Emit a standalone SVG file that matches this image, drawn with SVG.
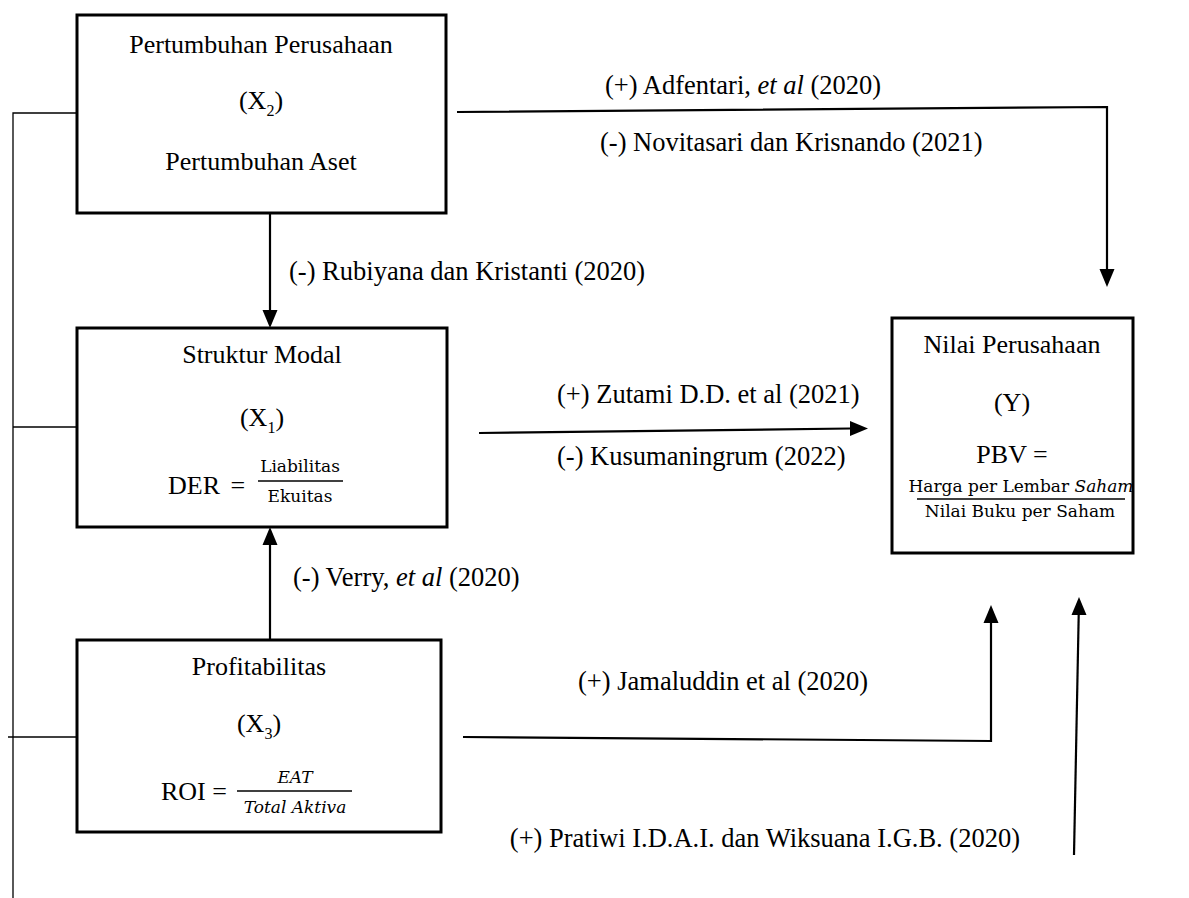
<svg xmlns="http://www.w3.org/2000/svg" width="1189" height="898" viewBox="0 0 1189 898">
<defs>
<style>
.box{fill:#fff;stroke:#000;stroke-width:3}
.t{font-family:"Liberation Serif","Times New Roman",serif;font-size:26px;fill:#000}
.lb{font-family:"Liberation Serif","Times New Roman",serif;font-size:26.5px;fill:#000}
.m{font-family:"DejaVu Serif","Liberation Serif",serif;font-size:17px;fill:#000}
.c{stroke:#000;stroke-width:2.2;fill:none}
.thin{stroke:#000;stroke-width:1.3;fill:none}
.head{fill:#000}
</style>
</defs>
<rect width="1189" height="898" fill="#fff"/>

<g id="connectors">
<polyline class="thin" points="77,113 13,113 13,898"/>
<line class="thin" x1="13" y1="427" x2="77" y2="427"/>
<line class="thin" x1="8" y1="737" x2="77" y2="737"/>
<polyline class="c" points="457,112 1107,107 1107,269"/>
<path class="head" d="M1099.5,269 L1114.5,269 L1107,287 z"/>
<line class="c" x1="270" y1="213" x2="270" y2="310"/>
<path class="head" d="M262.5,310 L277.5,310 L270,328 z"/>
<line class="c" x1="479" y1="433" x2="850" y2="428.5"/>
<path class="head" d="M850,421 L868,428.5 L850,436 z"/>
<line class="c" x1="270" y1="640" x2="270" y2="545"/>
<path class="head" d="M262.5,545 L277.5,545 L270,527 z"/>
<polyline class="c" points="463,737 991,741 991,623"/>
<path class="head" d="M983.5,623 L998.5,623 L991,605 z"/>
<line class="c" x1="1074" y1="855" x2="1078.7" y2="615"/>
<path class="head" d="M1071.5,615 L1086.5,615 L1079,597 z"/>
</g>

<g id="labels">
<text class="lb" x="605" y="94">(+) Adfentari, <tspan font-style="italic">et al</tspan> (2020)</text>
<text class="lb" x="600" y="151" font-size="25.5">(-) Novitasari dan Krisnando (2021)</text>
<text class="lb" x="289" y="280">(-) Rubiyana dan Kristanti (2020)</text>
<text class="lb" x="557" y="403">(+) Zutami D.D. et al (2021)</text>
<text class="lb" x="557" y="465">(-) Kusumaningrum (2022)</text>
<text class="lb" x="293" y="586" font-size="25">(-) Verry, <tspan font-style="italic">et al</tspan> (2020)</text>
<text class="lb" x="578" y="690" font-size="25.5">(+) Jamaluddin et al (2020)</text>
<text class="lb" x="1020" y="847" text-anchor="end">(+) Pratiwi I.D.A.I. dan Wiksuana I.G.B. (2020)</text>
</g>

<g id="node-x2">
<rect class="box" x="77" y="15" width="369" height="198"/>
<text class="t" x="261" y="53" text-anchor="middle">Pertumbuhan Perusahaan</text>
<text class="t" x="261" y="109" text-anchor="middle">(X<tspan font-size="16" dy="7">2</tspan><tspan dy="-7">)</tspan></text>
<text class="t" x="261" y="170" text-anchor="middle">Pertumbuhan Aset</text>
</g>

<g id="node-x1">
<rect class="box" x="77" y="328" width="370" height="199"/>
<text class="t" x="262" y="363" text-anchor="middle">Struktur Modal</text>
<text class="t" x="262" y="426" text-anchor="middle">(X<tspan font-size="16" dy="7">1</tspan><tspan dy="-7">)</tspan></text>
<text class="t" x="168" y="494" font-size="27">DER <tspan dx="4">=</tspan></text>
<text class="m" x="300" y="472" text-anchor="middle">Liabilitas</text>
<line x1="258" y1="481" x2="343" y2="481" stroke="#000" stroke-width="1.6"/>
<text class="m" x="300" y="502" text-anchor="middle">Ekuitas</text>
</g>

<g id="node-x3">
<rect class="box" x="77" y="640" width="364" height="192"/>
<text class="t" x="259" y="675" text-anchor="middle">Profitabilitas</text>
<text class="t" x="259" y="732" text-anchor="middle">(X<tspan font-size="16" dy="7">3</tspan><tspan dy="-7">)</tspan></text>
<text class="t" x="161" y="800" font-size="27">ROI =</text>
<text class="m" x="295" y="783" text-anchor="middle" font-style="italic">EAT</text>
<line x1="237" y1="791" x2="352" y2="791" stroke="#000" stroke-width="1.6"/>
<text class="m" x="295" y="813" text-anchor="middle" font-style="italic" font-size="18">Total Aktiva</text>
</g>

<g id="node-y">
<rect class="box" x="892" y="318" width="241" height="235"/>
<text class="t" x="1012" y="353" text-anchor="middle">Nilai Perusahaan</text>
<text class="t" x="1012" y="411" text-anchor="middle">(Y)</text>
<text class="t" x="1012" y="463" text-anchor="middle">PBV =</text>
<text class="m" x="1021" y="492" font-size="13" text-anchor="middle">Harga per Lembar <tspan font-style="italic">Saham</tspan></text>
<line x1="917" y1="499" x2="1125" y2="499" stroke="#000" stroke-width="1.6"/>
<text class="m" x="1020" y="517" text-anchor="middle" font-size="14">Nilai Buku per Saham</text>
</g>
</svg>
